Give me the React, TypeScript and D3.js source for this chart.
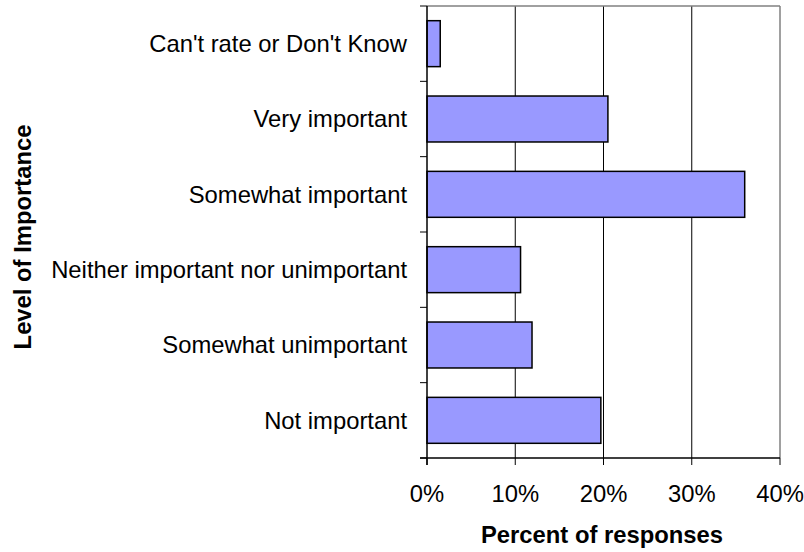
import React from "react";
import * as d3 from "d3";

const categories = [
  "Can't rate or Don't Know",
  "Very important",
  "Somewhat important",
  "Neither important nor unimportant",
  "Somewhat unimportant",
  "Not important",
];
const values = [1.5, 20.5, 36.0, 10.6, 11.9, 19.7];
const xTicks = [0, 10, 20, 30, 40];

const W = 804;
const H = 552;
const left = 427;
const right = 780;
const top = 6;
const bottom = 458;
const font = "Arial, 'Liberation Sans', sans-serif";
const fs = 23.8;

export default function App() {
  const x = d3.scaleLinear().domain([0, 40]).range([left, right]);
  const y = d3.scaleBand().domain(categories).range([top, bottom]).paddingInner(0.39).paddingOuter(0.195);
  const band = d3.scaleBand().domain(categories).range([top, bottom]);
  const yTicks = d3.range(categories.length + 1).map((i) => top + (i * (bottom - top)) / categories.length);
  return (
    <svg width={W} height={H} style={{ position: "absolute", left: 0, top: 0, background: "#fff" }}>
      {xTicks.slice(1, -1).map((t) => (
        <line key={t} x1={x(t)} x2={x(t)} y1={top} y2={bottom} stroke="#000" strokeWidth={1} />
      ))}
      <line x1={left} x2={right} y1={top} y2={top} stroke="#808080" strokeWidth={1.5} />
      <line x1={right} x2={right} y1={top} y2={bottom} stroke="#808080" strokeWidth={1.5} />
      {categories.map((c, i) => (
        <rect
          key={c}
          x={x(0)}
          y={y(c)}
          width={x(values[i]) - x(0)}
          height={y.bandwidth()}
          fill="#9999FF"
          stroke="#000"
          strokeWidth={1.5}
        />
      ))}
      <line x1={left} x2={left} y1={top} y2={bottom + 7} stroke="#000" strokeWidth={1.5} />
      <line x1={left - 7} x2={right} y1={bottom} y2={bottom} stroke="#000" strokeWidth={1.5} />
      {yTicks.map((t, i) => (
        <line key={i} x1={left - 7} x2={left} y1={t} y2={t} stroke="#000" strokeWidth={1} />
      ))}
      {xTicks.map((t) => (
        <line key={t} x1={x(t)} x2={x(t)} y1={bottom} y2={bottom + 7} stroke="#000" strokeWidth={1} />
      ))}
      {xTicks.map((t) => (
        <text key={t} x={x(t)} y={501.5} textAnchor="middle" fontFamily={font} fontSize={fs}>
          {t + "%"}
        </text>
      ))}
      {categories.map((c) => (
        <text
          key={c}
          x={407}
          y={(band(c) as number) + band.bandwidth() / 2}
          dy="0.35em"
          textAnchor="end"
          fontFamily={font}
          fontSize={fs}
        >
          {c}
        </text>
      ))}
      <text x={602} y={543} textAnchor="middle" fontFamily={font} fontSize={fs} fontWeight="bold">
        Percent of responses
      </text>
      <text
        transform={`translate(30.5,237) rotate(-90)`}
        textAnchor="middle"
        fontFamily={font}
        fontSize={fs}
        fontWeight="bold"
      >
        Level of Importance
      </text>
    </svg>
  );
}
